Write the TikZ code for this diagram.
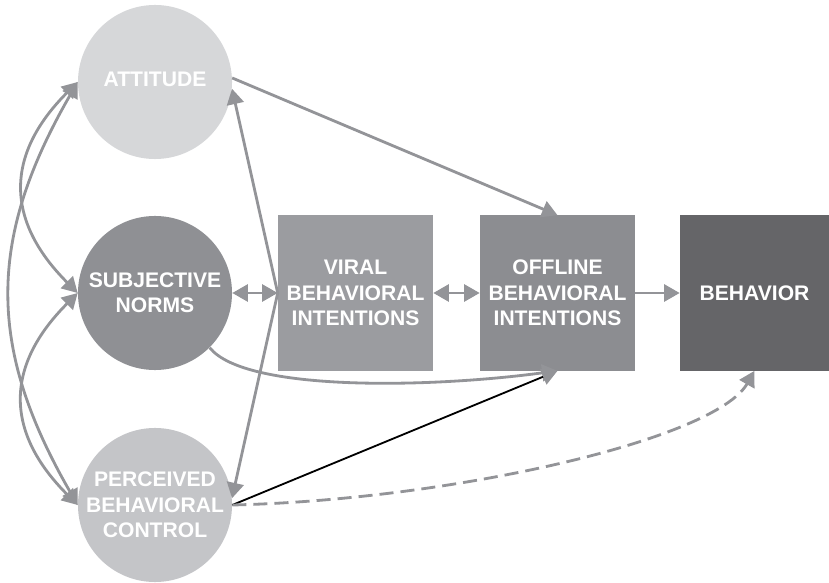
\documentclass[tikz,border=0pt]{standalone}
\usepackage{fontspec}
\setmainfont{Liberation Sans}
\usetikzlibrary{arrows.meta}
\definecolor{attfill}{HTML}{D6D7D9}
\definecolor{snfill}{HTML}{8F9094}
\definecolor{pbcfill}{HTML}{C4C5C8}
\definecolor{vbifill}{HTML}{9B9CA0}
\definecolor{obifill}{HTML}{8C8D91}
\definecolor{behfill}{HTML}{656568}
\definecolor{linkgray}{HTML}{939498}
\begin{document}
\begin{tikzpicture}[x=0.025cm, y=-0.025cm,
  factor/.style={circle, minimum size=3.85cm, inner sep=0pt, align=center, text=white, font=\fontsize{15}{18}\selectfont\bfseries},
  intent/.style={rectangle, minimum width=3.875cm, minimum height=3.875cm, inner sep=0pt, align=center, text=white, font=\fontsize{15}{18}\selectfont\bfseries},
  link/.style={draw=linkgray, line width=2pt, arrows={-Triangle[length=11pt, width=12pt]}},
  twoway/.style={link, arrows={Triangle[length=11pt, width=12pt]-Triangle[length=11pt, width=12pt]}}]
\useasboundingbox (0, 0) rectangle (829, 583);
\node[factor, fill=attfill] (att) at (155, 82) {ATTITUDE\\[-14pt]};
\node[factor, fill=snfill] (sn) at (155, 293) {SUBJECTIVE\\NORMS};
\node[factor, fill=pbcfill] (pbc) at (155, 505) {PERCEIVED\\BEHAVIORAL\\CONTROL};
\node[intent, fill=vbifill] (vbi) at (355.5, 293) {VIRAL\\BEHAVIORAL\\INTENTIONS};
\node[intent, fill=obifill] (obi) at (557.5, 293) {OFFLINE\\BEHAVIORAL\\INTENTIONS};
\node[intent, fill=behfill, minimum width=3.725cm] (beh) at (754.5, 293) {BEHAVIOR};
\draw[twoway] (att.west) to[out=225, in=135, looseness=1.25] (sn.west);
\draw[twoway] (sn.west) to[out=225, in=135, looseness=1.25] (pbc.west);
\draw[twoway] (att.west) to[out=240, in=120, looseness=1.1] (pbc.west);
\draw[link] (vbi.west) -- (att.-5);
\draw[link] (vbi.west) -- (pbc.5);
\draw[twoway] (sn.east) -- (vbi.west);
\draw[twoway] (vbi.east) -- (obi.west);
\draw[link] (obi.east) -- (beh.west);
\draw[link] (att.3) -- (obi.north);
\draw[link] (sn.-45) .. controls (245, 392) and (430, 388) .. (obi.south);
\draw[line width=1.3pt, arrows={-Triangle[length=11pt, width=12pt, color=linkgray]}] (pbc.east) -- (obi.south);
\draw[link, dash pattern=on 10pt off 5pt] (pbc.east) .. controls (450, 500) and (715, 440) .. (beh.south);
\end{tikzpicture}
\end{document}
